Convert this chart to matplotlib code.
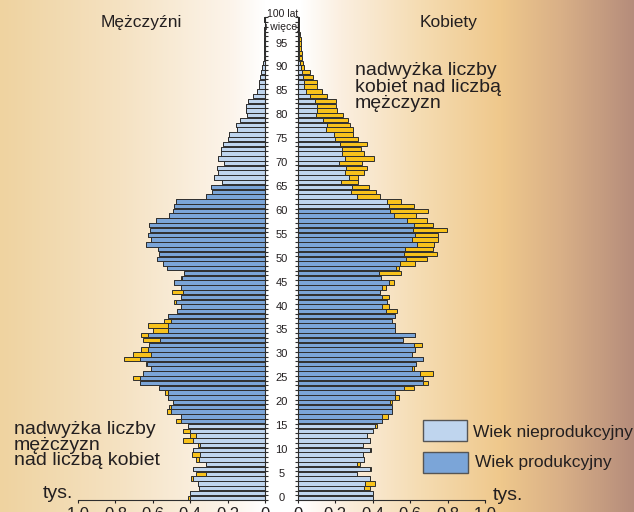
import numpy as np
import matplotlib
matplotlib.use("Agg")
import matplotlib.pyplot as plt
import matplotlib.transforms as mtransforms
from matplotlib.patches import Rectangle

plt.rcParams["font.family"] = ["Liberation Sans", "DejaVu Sans"]

# population by single year of age (thousands), age 0 .. 100+
ages = np.arange(101)
men = [0.41, 0.40, 0.351, 0.356, 0.397, 0.37, 0.383, 0.317, 0.369, 0.389,
       0.383, 0.357, 0.437, 0.401, 0.437, 0.414, 0.478, 0.451, 0.526, 0.512,
       0.49, 0.517, 0.535, 0.565, 0.668, 0.704, 0.65, 0.609, 0.634, 0.752,
       0.708, 0.665, 0.619, 0.651, 0.665, 0.601, 0.624, 0.538, 0.52, 0.472,
       0.449, 0.488, 0.451, 0.499, 0.451, 0.485, 0.45, 0.431, 0.522, 0.544,
       0.579, 0.565, 0.57, 0.636, 0.61, 0.624, 0.615, 0.619, 0.585, 0.511,
       0.494, 0.485, 0.476, 0.316, 0.285, 0.29, 0.232, 0.272, 0.249, 0.258,
       0.217, 0.253, 0.237, 0.237, 0.222, 0.199, 0.195, 0.15, 0.155, 0.134,
       0.098, 0.101, 0.103, 0.092, 0.066, 0.045, 0.034, 0.03, 0.027, 0.021,
       0.018, 0.012, 0.008, 0.006, 0.005, 0.005, 0.004, 0.003, 0.003, 0.002,
       0.003]
women = [0.40, 0.40, 0.385, 0.41, 0.385, 0.314, 0.39, 0.332, 0.354, 0.346,
         0.39, 0.345, 0.385, 0.367, 0.399, 0.42, 0.451, 0.483, 0.504, 0.504,
         0.504, 0.538, 0.519, 0.622, 0.693, 0.670, 0.724, 0.62, 0.631, 0.667,
         0.608, 0.626, 0.661, 0.56, 0.626, 0.52, 0.52, 0.501, 0.52, 0.527,
         0.488, 0.474, 0.488, 0.438, 0.469, 0.513, 0.442, 0.549, 0.542, 0.626,
         0.692, 0.742, 0.724, 0.729, 0.75, 0.747, 0.795, 0.724, 0.688, 0.631,
         0.693, 0.619, 0.551, 0.439, 0.415, 0.381, 0.322, 0.322, 0.355, 0.367,
         0.342, 0.406, 0.353, 0.337, 0.371, 0.321, 0.296, 0.296, 0.278, 0.269,
         0.242, 0.21, 0.203, 0.203, 0.153, 0.127, 0.1, 0.1, 0.08, 0.064,
         0.03, 0.025, 0.02, 0.02, 0.018, 0.018, 0.015, 0.01, 0.008, 0.005,
         0.008]
men_productive = (16, 65)
women_productive = (16, 60)
xticks = [0, 0.2, 0.4, 0.6, 0.8, 1.0]
xticklabels = ["0", "0,2", "0,4", "0,6", "0,8", "1,0"]

LIGHT = "#bfd5ee"
DARK = "#7ba5d8"
YELLOW = "#f8c21c"
EDGE = "#2e2e2e"
TXT = "#231f20"

W, H = 634, 512
fig = plt.figure(figsize=(W / 100, H / 100), dpi=100)


def fx(px):
    return px / W


def fy(py):
    return 1 - py / H


# background gradient
stops_x = [0, 120, 230, 265, 300, 340, 420, 500, 560, 634]
stops_c = ["#efd3a0", "#f5e2c2", "#fcf4ea", "#ffffff", "#ffffff",
           "#fbefe0", "#f5dcb2", "#efc88c", "#d9b087", "#b58c7b"]
rgb = np.array([matplotlib.colors.to_rgb(c) for c in stops_c])
xs = np.arange(W)
grad = np.stack([np.interp(xs, stops_x, rgb[:, i]) for i in range(3)], axis=-1)
bg = fig.add_axes([0, 0, 1, 1], zorder=-1)
bg.imshow(grad[None, :, :], aspect="auto", extent=[0, W, H, 0])
bg.axis("off")

men = np.array(men)
women = np.array(women)
common = np.minimum(men, women)
men_extra = np.clip(men - women, 0, None)
women_extra = np.clip(women - men, 0, None)

bottom, top = fy(500.1), fy(17.3)
axL = fig.add_axes([fx(78), bottom, fx(265) - fx(78), top - bottom])
axR = fig.add_axes([fx(298), bottom, fx(485) - fx(298), top - bottom])

for ax, extra, prod in [(axL, men_extra, men_productive),
                        (axR, women_extra, women_productive)]:
    cols = [DARK if prod[0] <= a <= prod[1] else LIGHT for a in ages]
    ax.barh(ages, common, height=0.92, color=cols, edgecolor=EDGE, linewidth=0.7)
    ax.barh(ages, extra, left=common, height=0.92, color=YELLOW,
            edgecolor=EDGE, linewidth=0.7)
    ax.set_facecolor("none")
    ax.set_ylim(-0.5, 100.5)
    ax.set_xticks(xticks)
    ax.set_xticklabels(xticklabels, fontsize=12, color=TXT)
    ax.tick_params(axis="x", length=2, pad=3, colors=TXT)
    ax.set_yticks(np.arange(-0.5, 101, 1))
    ax.set_yticklabels([])
    ax.tick_params(axis="y", length=2.5, width=0.8, direction="out", colors=EDGE)
    ax.spines["top"].set_visible(False)
    for s in ax.spines.values():
        s.set_color(EDGE)

axL.set_xlim(1.0, 0)
axL.spines["left"].set_visible(False)
axL.yaxis.tick_right()
axR.set_xlim(0, 1.0)
axR.spines["right"].set_visible(False)
axR.yaxis.tick_left()

# age labels in the middle strip
tr = mtransforms.blended_transform_factory(fig.transFigure, axL.transData)
for a in range(0, 100, 5):
    fig.text(fx(281.5), a, str(a), transform=tr, ha="center", va="center",
             fontsize=8, color=TXT)
fig.text(fx(283), 101.2, "100 lat", transform=tr, ha="center", va="center",
         fontsize=7.5, color=TXT)
fig.text(fx(282), 98.5, "i więcej", transform=tr, ha="center", va="center",
         fontsize=7.5, color=TXT)

fig.text(fx(141), fy(22), "Mężczyźni", ha="center", va="center",
         fontsize=12.5, color=TXT)
fig.text(fx(449), fy(22), "Kobiety", ha="center", va="center",
         fontsize=12.5, color=TXT)

fig.text(fx(355), fy(87), "nadwyżka liczby\nkobiet nad liczbą\nmężczyzn",
         ha="left", va="center", fontsize=14, linespacing=0.95, color=TXT)
fig.text(fx(14), fy(445), "nadwyżka liczby\nmężczyzn\nnad liczbą kobiet",
         ha="left", va="center", fontsize=14, linespacing=0.9, color=TXT)

fig.text(fx(58), fy(494), "tys.", ha="center", va="center", fontsize=14, color=TXT)
fig.text(fx(508), fy(496), "tys.", ha="center", va="center", fontsize=14, color=TXT)

# legend
fig.add_artist(Rectangle((fx(423), fy(441)), fx(467) - fx(423), 21 / H,
                         transform=fig.transFigure, facecolor=LIGHT,
                         edgecolor="#555555", linewidth=1))
fig.add_artist(Rectangle((fx(423), fy(473)), fx(468) - fx(423), 21 / H,
                         transform=fig.transFigure, facecolor=DARK,
                         edgecolor="#555555", linewidth=1))
fig.text(fx(473), fy(432), "Wiek nieprodukcyjny", ha="left", va="center",
         fontsize=12.5, color=TXT)
fig.text(fx(475), fy(463), "Wiek produkcyjny", ha="left", va="center",
         fontsize=12.5, color=TXT)

fig.savefig("out.png", dpi=100)
